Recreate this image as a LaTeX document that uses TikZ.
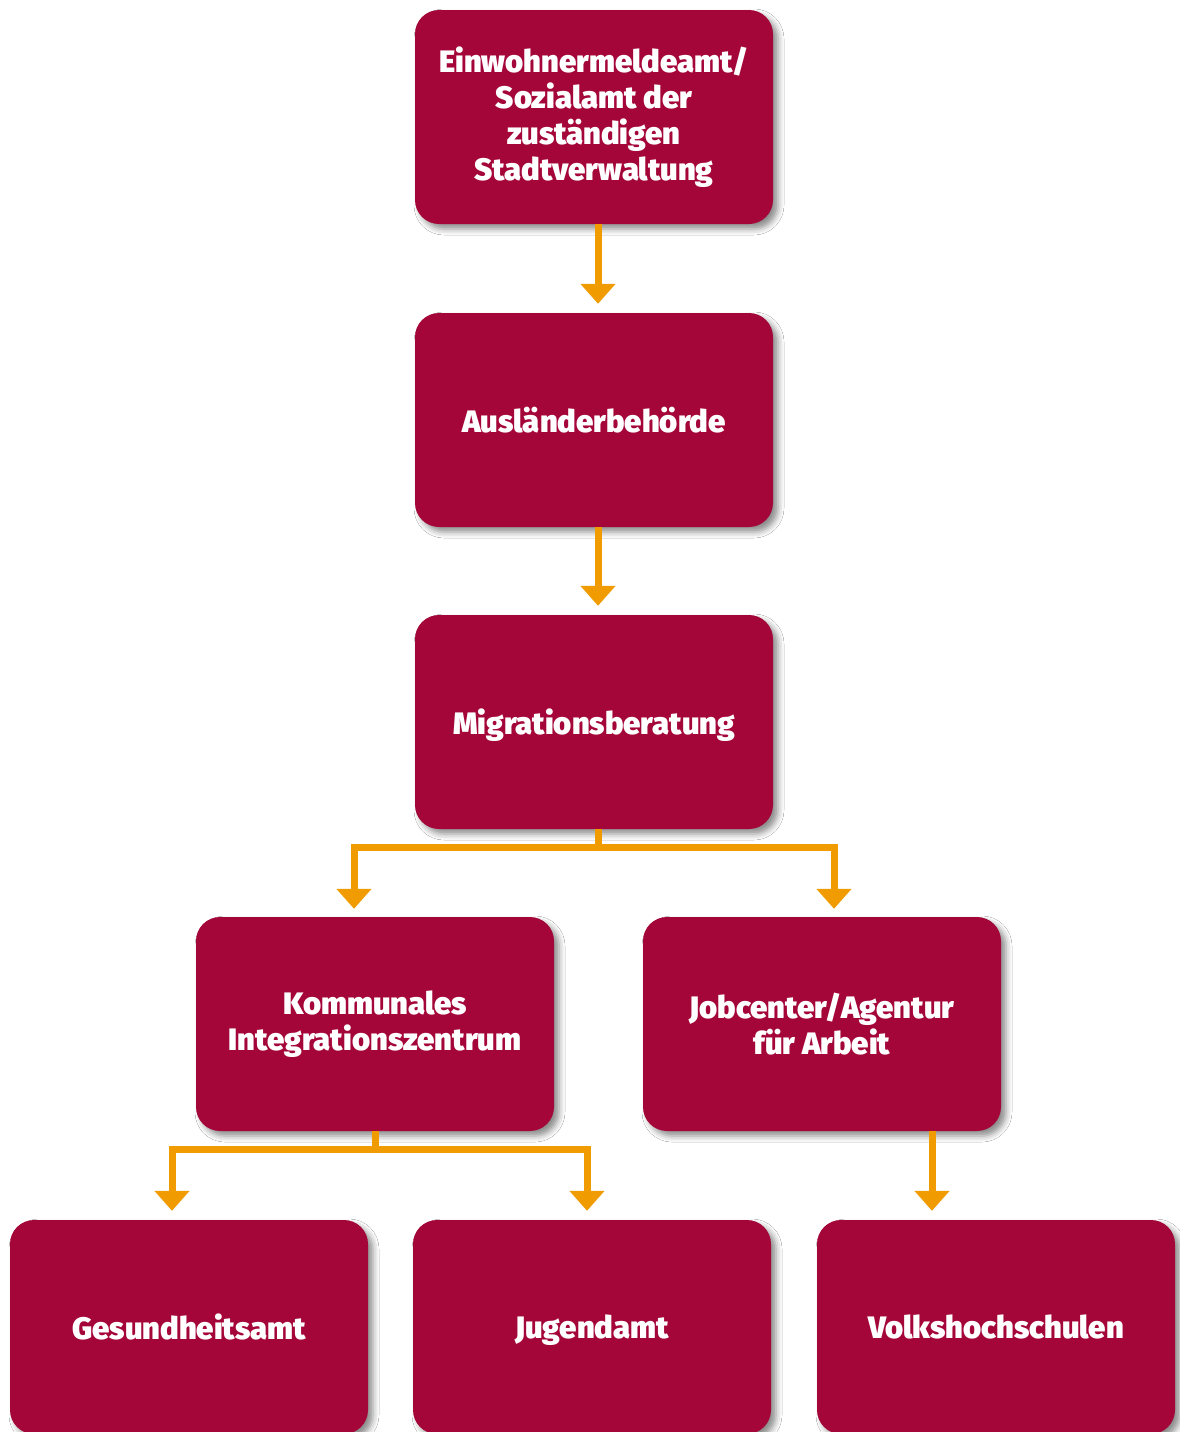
\documentclass[tikz,border=0pt]{standalone}
\usepackage{fontspec}
\IfFontExistsTF{Fira Sans Black}
  {\newfontfamily\heavyfam{Fira Sans Black}\def\heavy{\heavyfam\fontsize{31}{36}\selectfont}}
  {\newfontfamily\heavyfam{Fira Sans}\def\heavy{\heavyfam\bfseries\fontsize{33}{36}\selectfont}}
\usetikzlibrary{arrows.meta,shadows.blur}
\definecolor{crimson}{HTML}{A5063A}
\definecolor{amber}{HTML}{F09C00}
\begin{document}
\begin{tikzpicture}[x=1pt,y=-1pt,
  box/.style={rounded corners=24pt, fill=crimson, minimum width=358pt, minimum height=214pt,
    inner sep=0pt, align=center, text=white, font=\heavy,
    blur shadow={shadow xshift=5pt, shadow yshift=-5pt, shadow blur radius=6pt, shadow opacity=45}},
  oneline/.style={text depth=0pt},
  link/.style={draw=amber, line width=7pt, line join=miter},
  arr/.style={link, -{Triangle[width=34pt,length=20pt]}, shorten >=9pt}]
\useasboundingbox (0,0) rectangle (1180,1432);
\fill[white] (0,0) rectangle (1180,1432);
\node[box] (b1) at (594,117) {Einwohnermeldeamt/\\Sozialamt der\\zuständigen\\Stadtverwaltung};
\node[box,oneline] (b2) at (594,420) {Ausländerbehörde};
\node[box,oneline] (b3) at (594,722) {Migrationsberatung};
\node[box] (b4) at (375,1024) {Kommunales\\Integrationszentrum};
\node[box] (b5) at (822,1024) {Jobcenter/Agentur\\für Arbeit};
\node[box,oneline] (b6) at (189,1327) {Gesundheitsamt};
\node[box,oneline] (b7) at (592,1327) {Jugendamt};
\node[box,oneline] (b8) at (996,1327) {Volkshochschulen};
\draw[arr] ([xshift=4pt]b1.south) -- ([xshift=4pt]b2.north);
\draw[arr] ([xshift=4pt]b2.south) -- ([xshift=4pt]b3.north);
\coordinate (j1) at ([xshift=4pt,yshift=-18pt]b3.south);
\draw[link] ([xshift=4pt]b3.south) -- (j1);
\draw[arr] (j1) -| ([xshift=-21pt,yshift=-1pt]b4.north);
\draw[arr] (j1) -| ([xshift=12pt,yshift=-1pt]b5.north);
\coordinate (j2) at ([yshift=-18pt]b4.south);
\draw[link] (b4.south) -- (j2);
\draw[arr] (j2) -| ([xshift=-17pt]b6.north);
\draw[arr] (j2) -| ([xshift=-5pt]b7.north);
\draw[arr] ([xshift=110pt]b5.south) -- ([xshift=-64pt]b8.north);
\end{tikzpicture}
\end{document}
